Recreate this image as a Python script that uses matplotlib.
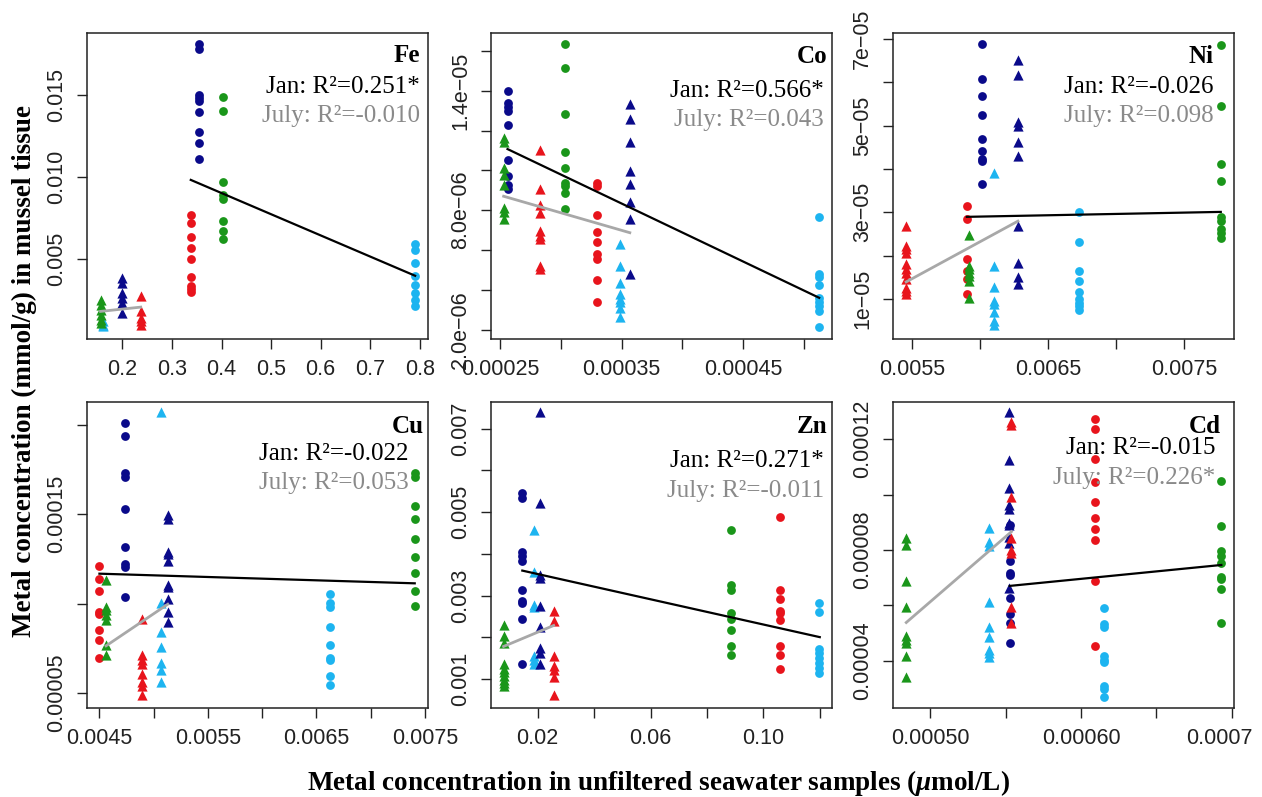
import matplotlib
matplotlib.use('Agg')
import matplotlib.pyplot as plt
from matplotlib.ticker import FixedLocator, FixedFormatter
from matplotlib.transforms import ScaledTranslation

plt.rcParams['mathtext.fontset'] = 'custom'
plt.rcParams['mathtext.rm'] = 'Liberation Serif:bold'
plt.rcParams['mathtext.it'] = 'Liberation Serif:italic:bold'

# Site order: sky blue, navy, red, green
SITE_COLORS = ['#1DB4F0', '#0A0A8A', '#E8141C', '#1A961A']

# ---------------- Fe ----------------
FE_JAN_X = [0.7906, 0.355, 0.338, 0.4025]
FE_JAN_Y = [
    [0.00593, 0.00553, 0.00476, 0.00395, 0.0034, 0.00293, 0.00253, 0.00212],
    [0.01814, 0.01778, 0.0150, 0.0148, 0.01463, 0.01395, 0.01273, 0.01206, 0.01111],
    [0.0077, 0.00719, 0.00638, 0.00567, 0.0050, 0.00389, 0.00334, 0.00318, 0.00303],
    [0.01486, 0.01403, 0.00969, 0.00892, 0.00865, 0.00731, 0.00671, 0.00626],
]
FE_JUL_X = [0.161, 0.1987, 0.237, 0.156]
FE_JUL_Y = [
    [0.00121, 0.00101, 0.00091],
    [0.00385, 0.00354, 0.00293, 0.00263, 0.00232, 0.00172],
    [0.00273, 0.00182, 0.00141, 0.00121, 0.00101],
    [0.00253, 0.00222, 0.00192, 0.00161, 0.00131, 0.00111],
]
FE_FIT_JAN = ([0.338, 0.7906], [0.00983, 0.00399])
FE_FIT_JUL = ([0.156, 0.237], [0.00182, 0.00208])
FE_R2 = ['Jan: R²=0.251*', 'July: R²=-0.010']

# ---------------- Co ----------------
CO_JAN_X = [0.0005129, 0.000256, 0.00033, 0.0003037]
CO_JAN_Y = [
    [7.65e-6, 4.78e-6, 4.62e-6, 4.25e-6, 3.57e-6, 3.37e-6, 3.2e-6, 2.95e-6, 2.12e-6],
    [1.398e-5, 1.337e-5, 1.317e-5, 1.3e-5, 1.228e-5, 1.053e-5, 9.7e-6, 9.28e-6, 9.07e-6],
    [9.37e-6, 9.23e-6, 7.78e-6, 6.92e-6, 6.42e-6, 5.78e-6, 5.57e-6, 4.48e-6, 3.4e-6],
    [1.637e-5, 1.512e-5, 1.282e-5, 1.09e-5, 1.012e-5, 9.37e-6, 9.2e-6, 8.87e-6, 8.07e-6],
]
CO_JUL_X = [0.0003491, 0.0003568, 0.000283, 0.0002528]
CO_JUL_Y = [
    [6.28e-6, 5.2e-6, 4.32e-6, 3.78e-6, 3.53e-6, 3.37e-6, 3.07e-6, 2.62e-6],
    [1.332e-5, 1.257e-5, 1.145e-5, 9.95e-6, 9.33e-6, 8.4e-6, 7.57e-6, 4.78e-6],
    [1.103e-5, 9.07e-6, 8.28e-6, 7.87e-6, 6.95e-6, 6.7e-6, 6.53e-6, 5.2e-6, 5.03e-6],
    [1.162e-5, 1.145e-5, 1.012e-5, 9.78e-6, 9.28e-6, 8.12e-6, 7.9e-6, 7.57e-6],
]
CO_FIT_JAN = ([0.000256, 0.0005129], [1.107e-5, 3.6e-6])
CO_FIT_JUL = ([0.0002528, 0.0003568], [8.7e-6, 6.87e-6])
CO_R2 = ['Jan: R²=0.566*', 'July: R²=0.043']

# ---------------- Ni ----------------
NI_JAN_X = [0.006723, 0.006013, 0.005903, 0.007767]
NI_JAN_Y = [
    [3.01e-5, 2.315e-5, 1.65e-5, 1.42e-5, 1.168e-5, 1.015e-5, 9.08e-6, 8.32e-6, 7.48e-6],
    [6.887e-5, 6.061e-5, 5.679e-5, 5.243e-5, 4.685e-5, 4.402e-5, 4.226e-5, 4.173e-5, 3.66e-5],
    [3.156e-5, 2.85e-5, 1.933e-5, 1.65e-5, 1.459e-5, 1.13e-5],
    [6.848e-5, 5.457e-5, 4.111e-5, 3.729e-5, 2.888e-5, 2.797e-5, 2.605e-5, 2.529e-5, 2.414e-5],
]
NI_JUL_X = [0.006099, 0.006278, 0.005458, 0.005916]
NI_JUL_Y = [
    [3.905e-5, 1.765e-5, 1.291e-5, 9.62e-6, 8.85e-6, 6.94e-6, 5.03e-6, 4.04e-6],
    [6.52e-5, 6.16e-5, 5.09e-5, 4.99e-5, 4.631e-5, 4.303e-5, 2.682e-5, 1.826e-5, 1.52e-5, 1.344e-5],
    [2.682e-5, 2.223e-5, 2.147e-5, 2.07e-5, 1.803e-5, 1.703e-5, 1.612e-5, 1.474e-5,
     1.268e-5, 1.191e-5, 1.115e-5],
    [2.468e-5, 1.765e-5, 1.688e-5, 1.612e-5, 1.535e-5, 1.42e-5, 1.038e-5],
]
NI_FIT_JAN = ([0.005903, 0.007767], [2.896e-5, 3.01e-5])
NI_FIT_JUL = ([0.005458, 0.006278], [1.398e-5, 2.797e-5])
NI_R2 = ['Jan: R²=-0.026', 'July: R²=0.098']

# ---------------- Cu ----------------
CU_JAN_X = [0.006623, 0.00474, 0.0045, 0.007407]
CU_JAN_Y = [
    [1.055e-4, 1.003e-4, 9.8e-5, 8.69e-5, 7.66e-5, 6.96e-5, 6.86e-5, 5.97e-5, 5.47e-5],
    [2.012e-4, 1.937e-4, 1.729e-4, 1.71e-4, 1.528e-4, 1.319e-4, 1.222e-4, 1.208e-4, 1.036e-4],
    [1.213e-4, 1.137e-4, 1.073e-4, 9.56e-5, 9.43e-5, 8.54e-5, 7.94e-5, 6.96e-5],
    [1.729e-4, 1.707e-4, 1.546e-4, 1.472e-4, 1.36e-4, 1.26e-4, 1.174e-4, 1.072e-4, 9.88e-5],
]
CU_JUL_X = [0.005072, 0.00513, 0.004893, 0.004561]
CU_JUL_Y = [
    [2.073e-4, 1.003e-4, 8.44e-5, 7.57e-5, 6.68e-5, 6.3e-5, 5.61e-5],
    [1.496e-4, 1.472e-4, 1.291e-4, 1.278e-4, 1.241e-4, 1.105e-4, 1.092e-4, 1.025e-4, 9.51e-5, 9.0e-5],
    [9.13e-5, 7.14e-5, 6.86e-5, 6.64e-5, 6.08e-5, 5.6e-5, 5.37e-5, 4.91e-5],
    [1.133e-4, 9.84e-5, 9.62e-5, 9.38e-5, 9.1e-5, 7.7e-5, 7.1e-5],
]
CU_FIT_JAN = ([0.0045, 0.007407], [1.168e-4, 1.114e-4])
CU_FIT_JUL = ([0.004561, 0.00513], [7.64e-5, 9.97e-5])
CU_R2 = ['Jan: R²=-0.022', 'July: R²=0.053']

# ---------------- Zn ----------------
ZN_JAN_X = [0.1198, 0.01456, 0.1058, 0.0884]
ZN_JAN_Y = [
    [0.002817, 0.002618, 0.001717, 0.001622, 0.001502, 0.001382, 0.001263, 0.001143],
    [0.005462, 0.005327, 0.004052, 0.003948, 0.003837, 0.003135, 0.002873, 0.002817,
     0.002434, 0.001367],
    [0.004888, 0.003135, 0.002912, 0.002641, 0.002594, 0.002418, 0.001781, 0.001566, 0.001239],
    [0.00457, 0.003255, 0.003135, 0.002594, 0.002434, 0.002179, 0.001781, 0.001582],
]
ZN_JUL_X = [0.01858, 0.02095, 0.02568, 0.00793]
ZN_JUL_Y = [
    [0.00457, 0.003574, 0.002777, 0.002721, 0.001558, 0.001462, 0.001367],
    [0.0074, 0.005207, 0.003494, 0.003414, 0.002753, 0.002243, 0.001741, 0.001622, 0.001367],
    [0.002641, 0.002402, 0.001542, 0.001319, 0.001223, 0.001048, 0.000626],
    [0.002299, 0.00202, 0.00186, 0.001367, 0.001239, 0.001159, 0.001064, 0.000984,
     0.000904, 0.000825],
]
ZN_FIT_JAN = ([0.01456, 0.12], [0.003598, 0.002004])
ZN_FIT_JUL = ([0.00793, 0.02568], [0.001781, 0.002283])
ZN_R2 = ['Jan: R²=0.271*', 'July: R²=-0.011']

# ---------------- Cd ----------------
CD_JAN_X = [0.0006152, 0.0005527, 0.0006092, 0.0006931]
CD_JAN_Y = [
    [5.898e-5, 5.333e-5, 5.213e-5, 4.156e-5, 4.036e-5, 3.952e-5, 3.075e-5, 2.991e-5, 2.691e-5],
    [8.901e-5, 7.616e-5, 7.183e-5, 7.099e-5, 6.258e-5, 5.694e-5, 5.381e-5, 4.637e-5],
    [1.2745e-4, 1.236e-4, 1.1279e-4, 1.0462e-4, 9.742e-5, 9.141e-5, 8.757e-5, 8.36e-5,
     6.895e-5, 4.517e-5],
    [1.0487e-4, 8.877e-5, 7.964e-5, 7.784e-5, 7.52e-5, 7.015e-5, 6.943e-5, 6.583e-5, 5.381e-5],
]
CD_JUL_X = [0.0005388, 0.000552, 0.0005538, 0.000484]
CD_JUL_Y = [
    [8.781e-5, 8.3e-5, 8.144e-5, 6.138e-5, 5.213e-5, 4.853e-5, 4.396e-5, 4.276e-5, 4.132e-5],
    [1.2985e-4, 1.1245e-4, 1.0248e-4, 9.622e-5, 9.466e-5, 8.985e-5, 8.901e-5, 8.48e-5,
     8.24e-5, 6.619e-5],
    [1.2625e-4, 1.2505e-4, 9.898e-5, 8.42e-5, 8.0e-5, 7.88e-5, 5.934e-5, 5.357e-5],
    [8.42e-5, 8.18e-5, 6.895e-5, 5.958e-5, 4.877e-5, 4.757e-5, 4.637e-5, 4.18e-5, 3.411e-5],
]
CD_FIT_JAN = ([0.0005527, 0.0006931], [6.703e-5, 7.459e-5])
CD_FIT_JUL = ([0.000484, 0.0005538], [5.381e-5, 8.661e-5])
CD_R2 = ['Jan: R²=-0.015', 'July: R²=0.226*']

# ---------------- Ticks ----------------
FE_XTICKS = [0.2, 0.3, 0.4, 0.5, 0.6, 0.7, 0.8]
FE_XLABELS = ['0.2', '0.3', '0.4', '0.5', '0.6', '0.7', '0.8']
FE_YTICKS = [0.005, 0.010, 0.015]
FE_YLABELS = ['0.005', '0.010', '0.015']

CO_XTICKS = [0.00025, 0.0003, 0.00035, 0.0004, 0.00045, 0.0005]
CO_XLABELS = ['0.00025', '', '0.00035', '', '0.00045', '']
CO_YTICKS = [2e-6, 4e-6, 6e-6, 8e-6, 1e-5, 1.2e-5, 1.4e-5, 1.6e-5]
CO_YLABELS = ['2.0e\u221206', '', '', '8.0e\u221206', '', '', '1.4e\u221205', '']

NI_XTICKS = [0.0055, 0.006, 0.0065, 0.007, 0.0075]
NI_XLABELS = ['0.0055', '', '0.0065', '', '0.0075']
NI_YTICKS = [1e-5, 2e-5, 3e-5, 4e-5, 5e-5, 6e-5, 7e-5]
NI_YLABELS = ['1e\u221205', '', '3e\u221205', '', '5e\u221205', '', '7e\u221205']

CU_XTICKS = [0.0045, 0.005, 0.0055, 0.006, 0.0065, 0.007, 0.0075]
CU_XLABELS = ['0.0045', '', '0.0055', '', '0.0065', '', '0.0075']
CU_YTICKS = [5e-5, 1e-4, 1.5e-4, 2e-4]
CU_YLABELS = ['0.00005', '', '0.00015', '']

ZN_XTICKS = [0.02, 0.04, 0.06, 0.08, 0.10, 0.12]
ZN_XLABELS = ['0.02', '', '0.06', '', '0.10', '']
ZN_YTICKS = [0.001, 0.002, 0.003, 0.004, 0.005, 0.006, 0.007]
ZN_YLABELS = ['0.001', '', '0.003', '', '0.005', '', '0.007']

CD_XTICKS = [0.0005, 0.00055, 0.0006, 0.00065, 0.0007]
CD_XLABELS = ['0.00050', '', '0.00060', '', '0.0007']
CD_YTICKS = [4e-5, 6e-5, 8e-5, 1e-4, 1.2e-4]
CD_YLABELS = ['0.00004', '', '0.00008', '', '0.00012']

PANELS = [
    dict(name='Fe', jx=FE_JAN_X, jy=FE_JAN_Y, ux=FE_JUL_X, uy=FE_JUL_Y, fj=FE_FIT_JAN, fu=FE_FIT_JUL,
         r2=FE_R2, xt=FE_XTICKS, xl=FE_XLABELS, yt=FE_YTICKS, yl=FE_YLABELS,
         xlim=(0.1288, 0.8167), ylim=(0.00014, 0.01878),
         pos=(0.069, 0.5747), lx=0.976, tx=0.976, ty=(0.906, 0.805, 0.710)),
    dict(name='Co', jx=CO_JAN_X, jy=CO_JAN_Y, ux=CO_JUL_X, uy=CO_JUL_Y, fj=CO_FIT_JAN, fu=CO_FIT_JUL,
         r2=CO_R2, xt=CO_XTICKS, xl=CO_XLABELS, yt=CO_YTICKS, yl=CO_YLABELS,
         xlim=(0.0002423, 0.0005234), ylim=(1.533e-6, 1.69e-5),
         pos=(0.389, 0.5747), lx=0.987, tx=0.977, ty=(0.903, 0.792, 0.696)),
    dict(name='Ni', jx=NI_JAN_X, jy=NI_JAN_Y, ux=NI_JUL_X, uy=NI_JUL_Y, fj=NI_FIT_JAN, fu=NI_FIT_JUL,
         r2=NI_R2, xt=NI_XTICKS, xl=NI_XLABELS, yt=NI_YTICKS, yl=NI_YLABELS,
         xlim=(0.005361, 0.007864), ylim=(8.3e-7, 7.131e-5),
         pos=(0.7076, 0.5747), lx=0.939, tx=0.941, ty=(0.901, 0.805, 0.710)),
    dict(name='Cu', jx=CU_JAN_X, jy=CU_JAN_Y, ux=CU_JUL_X, uy=CU_JUL_Y, fj=CU_FIT_JAN, fu=CU_FIT_JUL,
         r2=CU_R2, xt=CU_XTICKS, xl=CU_XLABELS, yt=CU_YTICKS, yl=CU_YLABELS,
         xlim=(0.004386, 0.00753), ylim=(4.162e-5, 0.0002129),
         pos=(0.069, 0.1117), lx=0.988, tx=0.943, ty=(0.900, 0.810, 0.715)),
    dict(name='Zn', jx=ZN_JAN_X, jy=ZN_JAN_Y, ux=ZN_JUL_X, uy=ZN_JUL_Y, fj=ZN_FIT_JAN, fu=ZN_FIT_JUL,
         r2=ZN_R2, xt=ZN_XTICKS, xl=ZN_XLABELS, yt=ZN_YTICKS, yl=ZN_YLABELS,
         xlim=(0.003432, 0.1243), ylim=(0.0003068, 0.007637),
         pos=(0.389, 0.1117), lx=0.987, tx=0.976, ty=(0.900, 0.789, 0.691)),
    dict(name='Cd', jx=CD_JAN_X, jy=CD_JAN_Y, ux=CD_JUL_X, uy=CD_JUL_Y, fj=CD_FIT_JAN, fu=CD_FIT_JUL,
         r2=CD_R2, xt=CD_XTICKS, xl=CD_XLABELS, yt=CD_YTICKS, yl=CD_YLABELS,
         xlim=(0.0004752, 0.0007015), ylim=(2.294e-5, 1.3345e-4),
         pos=(0.7076, 0.1117), lx=0.960, tx=0.946, ty=(0.900, 0.830, 0.732)),
]

W, H = 0.2702, 0.3839
SERIF = 'Liberation Serif'
SANS = 'Liberation Sans'
JUL_TEXT = '#8A8A8A'
JUL_LINE = '#A8A8A8'

fig = plt.figure(figsize=(12.62, 7.97), dpi=100)
axes = []
for p in PANELS:
    ax = fig.add_axes([p['pos'][0], p['pos'][1], W, H])
    axes.append(ax)
    # Jan: circles, July: triangles
    for x, ys, c in zip(p['jx'], p['jy'], SITE_COLORS):
        ax.scatter([x] * len(ys), ys, s=40, marker='o', color=c, linewidths=0, zorder=2)
    for x, ys, c in zip(p['ux'], p['uy'], SITE_COLORS):
        ax.scatter([x] * len(ys), ys, s=54, marker='^', color=c, linewidths=0, zorder=2)
    ax.plot(p['fj'][0], p['fj'][1], color='black', lw=1.6, zorder=3)
    ax.plot(p['fu'][0], p['fu'][1], color=JUL_LINE, lw=2.0, zorder=3)
    ax.set_xlim(*p['xlim'])
    ax.set_ylim(*p['ylim'])
    ax.xaxis.set_major_locator(FixedLocator(p['xt']))
    ax.xaxis.set_major_formatter(FixedFormatter(p['xl']))
    ax.yaxis.set_major_locator(FixedLocator(p['yt']))
    ax.yaxis.set_major_formatter(FixedFormatter(p['yl']))
    ax.tick_params(direction='out', length=7.2, width=1.0, pad=7, labelsize=15.5, color='#222222')
    ax.tick_params(axis='y', labelrotation=90)
    for lab in ax.get_yticklabels():
        lab.set_va('center')
    for lab in ax.get_xticklabels() + ax.get_yticklabels():
        lab.set_fontfamily(SANS)
        lab.set_color('#222222')
    for sp in ax.spines.values():
        sp.set_linewidth(1.1)
        sp.set_color('#222222')
    ax.text(p['lx'], p['ty'][0], p['name'], transform=ax.transAxes, ha='right', va='baseline',
            fontsize=18, fontweight='bold', family=SERIF, color='black', zorder=4)
    ax.text(p['tx'], p['ty'][1], p['r2'][0], transform=ax.transAxes, ha='right', va='baseline',
            fontsize=18, family=SERIF, color='black', zorder=4)
    ax.text(p['tx'], p['ty'][2], p['r2'][1], transform=ax.transAxes, ha='right', va='baseline',
            fontsize=18, family=SERIF, color=JUL_TEXT, zorder=4)

# last Cd x tick label sits slightly left so it stays inside the figure (as in reference)
last_lab = axes[-1].get_xticklabels()[-1]
last_lab.set_transform(last_lab.get_transform() + ScaledTranslation(-12 / 100, 0, fig.dpi_scale_trans))

fig.text(0.019, 0.535, 'Metal concentration (mmol/g) in mussel tissue', rotation=90,
         ha='center', va='center', fontsize=19.5, fontweight='bold', family=SERIF)
fig.text(0.522, 0.009, 'Metal concentration in unfiltered seawater samples ($\\mu$mol/L)',
         ha='center', va='baseline', fontsize=19.5, fontweight='bold', family=SERIF)

fig.savefig('out.png', dpi=100)
